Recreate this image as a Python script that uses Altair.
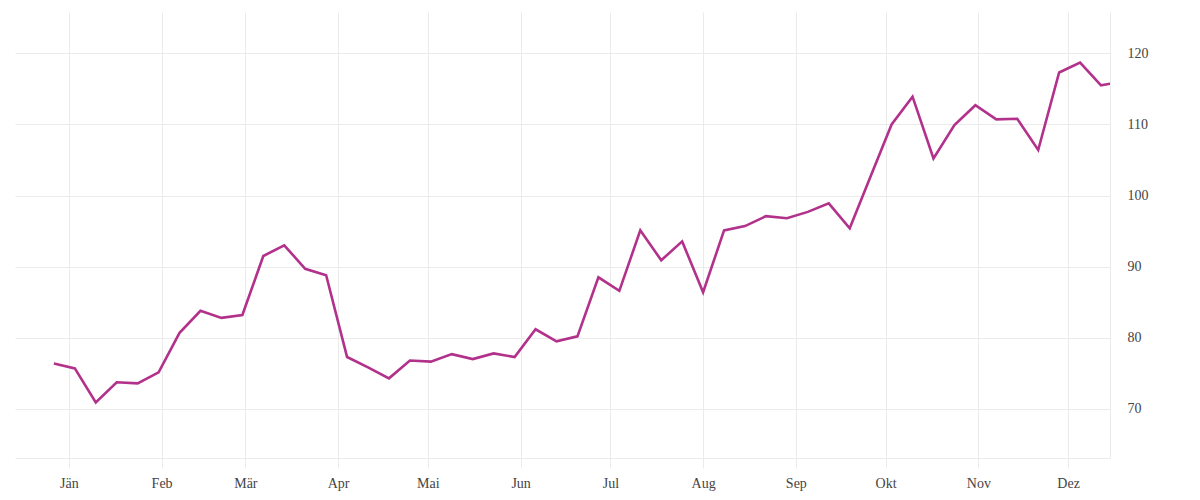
import altair as alt
import pandas as pd

start = "2020-12-27"
values = [76.4, 75.7, 70.9, 73.75, 73.6, 75.15, 80.7, 83.8, 82.8, 83.2,
          91.5, 93.0, 89.7, 88.8, 77.3, 75.85, 74.3, 76.8, 76.65, 77.7,
          77.0, 77.8, 77.3, 81.2, 79.5, 80.2, 88.5, 86.6, 95.1, 90.9,
          93.55, 86.4, 95.1, 95.7, 97.1, 96.8, 97.7, 98.9, 95.4, 102.7,
          110.0, 113.9, 105.2, 109.9, 112.7, 110.7, 110.8, 106.4, 117.3, 118.7,
          115.5, 116.0]
month_labels = ["Jän", "Feb", "Mär", "Apr", "Mai", "Jun", "Jul", "Aug", "Sep", "Okt", "Nov", "Dez"]
y_ticks = [70, 80, 90, 100, 110, 120]

dates = pd.date_range(start, periods=len(values), freq="7D").strftime("%Y-%m-%dT00:00:00")
df = pd.DataFrame({"date": list(dates), "value": values})

label_expr = "[" + ",".join("'" + m + "'" for m in month_labels) + "][month(datum.value)]"

FONT = "Liberation Serif"
GRID = "#ebebeb"

chart = alt.Chart(df).mark_line(color="#b2318b", strokeWidth=2.6, clip=True).encode(
    x=alt.X("date:T",
            scale=alt.Scale(domain=[alt.DateTime(year=2020, month=12, date=14),
                                    alt.DateTime(year=2021, month=12, date=15)]),
            axis=alt.Axis(title=None, tickCount={"interval": "month", "step": 1},
                          labelExpr=label_expr, grid=True, gridColor=GRID,
                          domainColor=GRID, tickColor=GRID, tickSize=10,
                          labelPadding=8, labelFont=FONT, labelFontSize=14,
                          labelColor="#444")),
    y=alt.Y("value:Q",
            scale=alt.Scale(domain=[63.1, 125.8], nice=False, zero=False),
            axis=alt.Axis(title=None, orient="right", values=y_ticks, grid=True,
                          gridColor=GRID, domainColor=GRID, ticks=False,
                          labelPadding=17, labelFont=FONT, labelFontSize=14,
                          labelColor="#444")),
).properties(
    width=1095, height=446,
    padding={"left": 7, "top": 4, "right": 5, "bottom": 5},
).configure_view(stroke=None)

chart.save("out.html", embed_options={"renderer": "svg", "actions": False})
